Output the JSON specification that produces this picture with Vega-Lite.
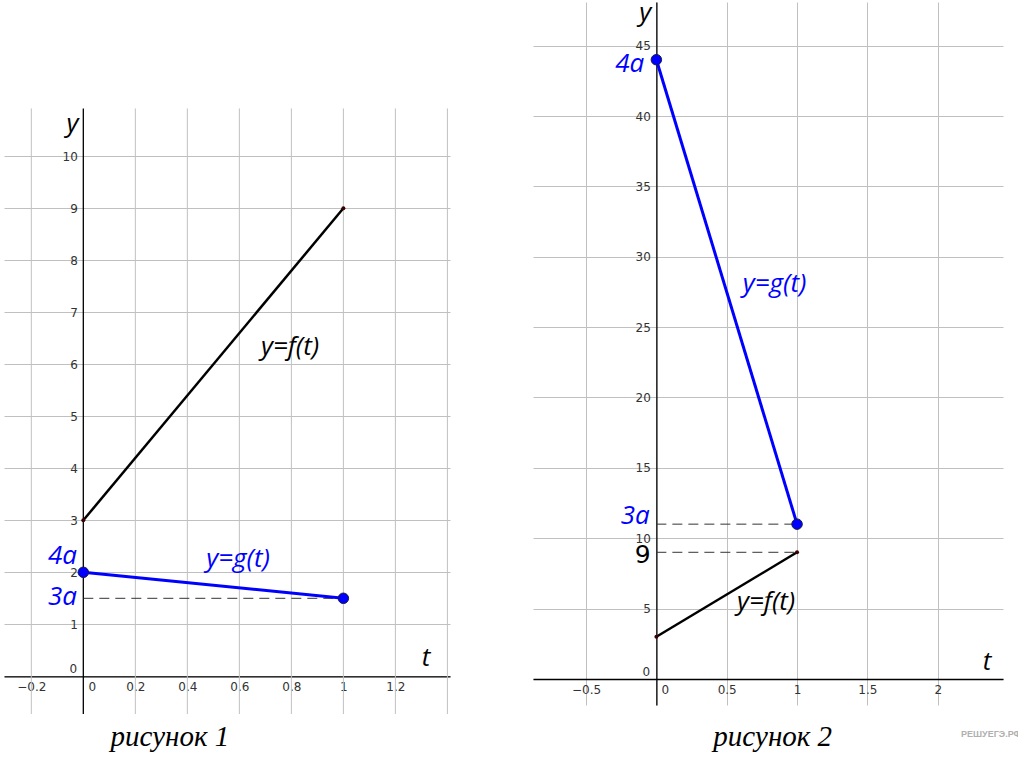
{
  "$schema": "https://vega.github.io/schema/vega-lite/v6.json",
  "padding": {"left": 4, "top": 0, "right": 0, "bottom": 0},
  "background": "white",
  "spacing": 83,
  "config": {
    "view": {"stroke": null},
    "axis": {"labelFont": "DejaVu Sans", "labelFontSize": 12, "labelColor": "#333", "gridColor": "#c0c0c0", "gridWidth": 1, "domainColor": "#000", "domainWidth": 1.3, "ticks": false, "labelFlush": false, "labelOverlap": false, "labelBound": false}
  },
  "hconcat": [
    {
      "width": 446,
      "height": 712,
      "layer": [
        {"data": {"values": [{"t": -0.2}, {"t": 0.2}, {"t": 0.4}, {"t": 0.6}, {"t": 0.8}, {"t": 1}, {"t": 1.2}, {"t": 1.4}]},
          "mark": {"type": "rule", "color": "#c0c0c0", "strokeWidth": 1},
          "encoding": {
            "x": {"field": "t", "type": "quantitative", "scale": {"domain": [-0.305, 1.41], "nice": false, "zero": false},
              "axis": {"title": null, "values": [-0.2, 0, 0.2, 0.4, 0.6, 0.8, 1, 1.2, 1.4], "format": ".2~f", "offset": -37.7, "grid": false, "labelPadding": 5, "labelExpr": "datum.value == 0 || datum.value > 1.3 ? '' : datum.label"}},
            "y": {"datum": -0.725, "type": "quantitative", "scale": {"domain": [-0.725, 12.967], "nice": false, "zero": false},
              "axis": {"title": null, "values": [0, 1, 2, 3, 4, 5, 6, 7, 8, 9, 10], "offset": -79.3, "grid": true, "domain": false, "labelPadding": 6, "labelExpr": "datum.value == 0 ? '' : datum.label"}},
            "y2": {"datum": 10.92}}},
        {"data": {"values": [{"t": 0}]},
          "mark": {"type": "rule", "color": "#000", "strokeWidth": 1.3},
          "encoding": {"x": {"field": "t", "type": "quantitative"}, "y": {"datum": -0.725, "type": "quantitative"}, "y2": {"datum": 10.92}}},
        {"data": {"values": [{"t": 0, "y": 3}, {"t": 1, "y": 9}]}, "mark": {"type": "line", "color": "#000", "strokeWidth": 2.5},
          "encoding": {"x": {"field": "t", "type": "quantitative"}, "y": {"field": "y", "type": "quantitative"}}},
        {"data": {"values": [{"t": 0, "t2": 1, "y": 1.5}]}, "mark": {"type": "rule", "color": "#333", "strokeDash": [10, 6], "strokeWidth": 1},
          "encoding": {"x": {"field": "t", "type": "quantitative"}, "x2": {"field": "t2"}, "y": {"field": "y", "type": "quantitative"}}},
        {"data": {"values": [{"t": 0, "y": 2}, {"t": 1, "y": 1.5}]}, "mark": {"type": "line", "color": "#0000ff", "strokeWidth": 3},
          "encoding": {"x": {"field": "t", "type": "quantitative"}, "y": {"field": "y", "type": "quantitative"}}},
        {"data": {"values": [{"t": 0, "y": 3}, {"t": 1, "y": 9}]}, "mark": {"type": "circle", "color": "#3a0000", "size": 16, "opacity": 1},
          "encoding": {"x": {"field": "t", "type": "quantitative"}, "y": {"field": "y", "type": "quantitative"}}},
        {"data": {"values": [{"t": 0, "y": 2}, {"t": 1, "y": 1.5}]}, "mark": {"type": "point", "shape": "circle", "filled": true, "fill": "#0000ff", "stroke": "#1a1a40", "strokeWidth": 1, "size": 110, "opacity": 1},
          "encoding": {"x": {"field": "t", "type": "quantitative"}, "y": {"field": "y", "type": "quantitative"}}},
        {"data": {"values": [{"t": -0.08, "y": 2.31, "label": "4a"}, {"t": -0.08, "y": 1.52, "label": "3a"}, {"t": 0.595, "y": 2.25, "label": "y=g(t)"}]},
          "mark": {"type": "text", "font": "Open Sans", "fontStyle": "italic", "fontSize": 26, "color": "#0000ff", "align": "center", "baseline": "middle"},
          "encoding": {"x": {"field": "t", "type": "quantitative"}, "y": {"field": "y", "type": "quantitative"}, "text": {"field": "label"}}},
        {"data": {"values": [{"t": 0.795, "y": 6.33, "label": "y=f(t)"}, {"t": -0.042, "y": 10.62, "label": "y"}, {"t": 1.318, "y": 0.36, "label": "t"}]},
          "mark": {"type": "text", "font": "Open Sans", "fontStyle": "italic", "fontSize": 26, "color": "#000", "align": "center", "baseline": "middle"},
          "encoding": {"x": {"field": "t", "type": "quantitative"}, "y": {"field": "y", "type": "quantitative"}, "text": {"field": "label"}}},
        {"data": {"values": [{"t": 0, "y": 0, "label": "0"}]}, "mark": {"type": "text", "font": "DejaVu Sans", "fontSize": 12, "color": "#333", "dx": 9, "dy": 11},
          "encoding": {"x": {"field": "t", "type": "quantitative"}, "y": {"field": "y", "type": "quantitative"}, "text": {"field": "label"}}},
        {"data": {"values": [{"t": 0, "y": 0, "label": "0"}]}, "mark": {"type": "text", "font": "DejaVu Sans", "fontSize": 12, "color": "#333", "dx": -10, "dy": -7},
          "encoding": {"x": {"field": "t", "type": "quantitative"}, "y": {"field": "y", "type": "quantitative"}, "text": {"field": "label"}}},
        {"data": {"values": [{"t": 0.333, "y": -1.167, "label": "рисунок 1"}]}, "mark": {"type": "text", "font": "Liberation Serif", "fontStyle": "italic", "fontSize": 29, "color": "#000", "align": "center", "baseline": "middle"},
          "encoding": {"x": {"field": "t", "type": "quantitative"}, "y": {"field": "y", "type": "quantitative"}, "text": {"field": "label"}}}
      ]
    },
    {
      "width": 470,
      "height": 703,
      "encoding": {
        "x": {"field": "t", "type": "quantitative", "scale": {"domain": [-0.877, 2.464], "nice": false, "zero": false},
          "axis": {"title": null, "values": [-0.5, 0, 0.5, 1, 1.5, 2], "format": ".1~f", "offset": -26, "grid": true, "labelPadding": 5, "labelExpr": "datum.value == 0 ? '' : datum.label"}},
        "y": {"field": "y", "type": "quantitative", "scale": {"domain": [-1.85, 48.1], "nice": false, "zero": false},
          "axis": {"title": null, "values": [0, 5, 10, 15, 20, 25, 30, 35, 40, 45], "offset": -123.4, "grid": true, "labelPadding": 6, "labelExpr": "datum.value == 0 ? '' : datum.label"}}
      },
      "layer": [
        {"data": {"values": [{"t": 0, "y": 3}, {"t": 1, "y": 9}]}, "mark": {"type": "line", "color": "#000", "strokeWidth": 2.5}},
        {"data": {"values": [{"t": 0, "t2": 1, "y": 11}, {"t": 0, "t2": 1, "y": 9}]}, "mark": {"type": "rule", "color": "#333", "strokeDash": [10, 6], "strokeWidth": 1}, "encoding": {"x2": {"field": "t2"}}},
        {"data": {"values": [{"t": 0, "y": 44}, {"t": 1, "y": 11}]}, "mark": {"type": "line", "color": "#0000ff", "strokeWidth": 3}},
        {"data": {"values": [{"t": 0, "y": 3}, {"t": 1, "y": 9}]}, "mark": {"type": "circle", "color": "#3a0000", "size": 16, "opacity": 1}},
        {"data": {"values": [{"t": 0, "y": 44}, {"t": 1, "y": 11}]}, "mark": {"type": "point", "shape": "circle", "filled": true, "fill": "#0000ff", "stroke": "#1a1a40", "strokeWidth": 1, "size": 110, "opacity": 1}},
        {"data": {"values": [{"t": -0.19, "y": 43.7, "label": "4a"}, {"t": -0.15, "y": 11.56, "label": "3a"}, {"t": 0.84, "y": 28.07, "label": "y=g(t)"}]},
          "mark": {"type": "text", "font": "Open Sans", "fontStyle": "italic", "fontSize": 26, "color": "#0000ff", "align": "center", "baseline": "middle"},
          "encoding": {"text": {"field": "label"}}},
        {"data": {"values": [{"t": 0.78, "y": 5.45, "label": "y=f(t)"}, {"t": -0.08, "y": 47.3, "label": "y"}, {"t": 2.35, "y": 1.2, "label": "t"}]},
          "mark": {"type": "text", "font": "Open Sans", "fontStyle": "italic", "fontSize": 26, "color": "#000", "align": "center", "baseline": "middle"},
          "encoding": {"text": {"field": "label"}}},
        {"data": {"values": [{"t": -0.097, "y": 8.8, "label": "9"}]}, "mark": {"type": "text", "font": "DejaVu Sans", "fontSize": 25, "color": "#000", "align": "center", "baseline": "middle"}, "encoding": {"text": {"field": "label"}}},
        {"data": {"values": [{"t": 0, "y": 0, "label": "0"}]}, "mark": {"type": "text", "font": "DejaVu Sans", "fontSize": 12, "color": "#333", "dx": 9, "dy": 11}, "encoding": {"text": {"field": "label"}}},
        {"data": {"values": [{"t": 0, "y": 0, "label": "0"}]}, "mark": {"type": "text", "font": "DejaVu Sans", "fontSize": 12, "color": "#333", "dx": -10, "dy": -7}, "encoding": {"text": {"field": "label"}}},
        {"data": {"values": [{"t": 0.827, "y": -4.14, "label": "рисунок 2"}]}, "mark": {"type": "text", "font": "Liberation Serif", "fontStyle": "italic", "fontSize": 29, "color": "#000", "align": "center", "baseline": "middle"}, "encoding": {"text": {"field": "label"}}},
        {"data": {"values": [{"t": 2.38, "y": -3.9, "label": "РЕШУЕГЭ.РФ"}]}, "mark": {"type": "text", "font": "Liberation Sans", "fontWeight": "bold", "fontSize": 9, "color": "#b0b0b0", "align": "center", "baseline": "middle"}, "encoding": {"text": {"field": "label"}}}
      ]
    }
  ]
}
